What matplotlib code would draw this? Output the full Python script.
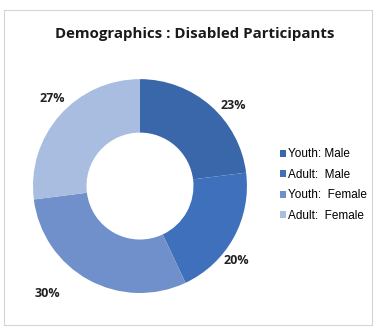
import numpy as np
import matplotlib.pyplot as plt
from matplotlib.patches import Rectangle

# share of disabled participants by group
groups = ["Youth: Male", "Adult:  Male", "Youth:  Female", "Adult:  Female"]
shares = [23, 20, 30, 27]
colors = ["#3A67AA", "#3F70BC", "#6F90CB", "#A9BDE1"]

fig = plt.figure(figsize=(3.78, 3.27), dpi=100)
fig.patch.set_facecolor("white")

# light frame round the chart area
fig.add_artist(Rectangle((0.011, 0.006), 0.974, 0.963, transform=fig.transFigure,
                         fill=False, edgecolor="#D4D4D4", linewidth=0.8))

fig.text(0.516, 0.896, "Demographics : Disabled Participants", ha="center", va="center",
         fontsize=10.8, fontweight="bold", family="Open Sans", color="#1a1a1a")

ax = fig.add_axes([0.0873, 0.104, 0.566, 0.654])
wedges, _ = ax.pie(shares, colors=colors, startangle=90, counterclock=False,
                   wedgeprops=dict(width=0.5, edgecolor="none"))

# percentage labels outside each ring segment (angle shift, radius)
label_shift = [-7.6, -9, -12, -3.6]
label_rad = [1.15, 1.14, 1.33, 1.16]
for w, v, da, r in zip(wedges, shares, label_shift, label_rad):
    ang = np.deg2rad((w.theta1 + w.theta2) / 2 + da)
    ax.text(r * np.cos(ang), r * np.sin(ang), f"{v}%", ha="center", va="center",
            fontsize=9, fontweight="bold", family="Open Sans", color="#222222")
ax.set_xlim(-1, 1)
ax.set_ylim(-1, 1)
ax.set_aspect("auto")

leg = fig.legend(wedges, groups, loc="center left", bbox_to_anchor=(0.712, 0.434),
                 frameon=False, handlelength=0.55, handleheight=0.55,
                 handletextpad=0.15, labelspacing=0.72,
                 prop=dict(family="Liberation Sans", size=8.5))

fig.savefig("out.png", dpi=100, facecolor="white")
